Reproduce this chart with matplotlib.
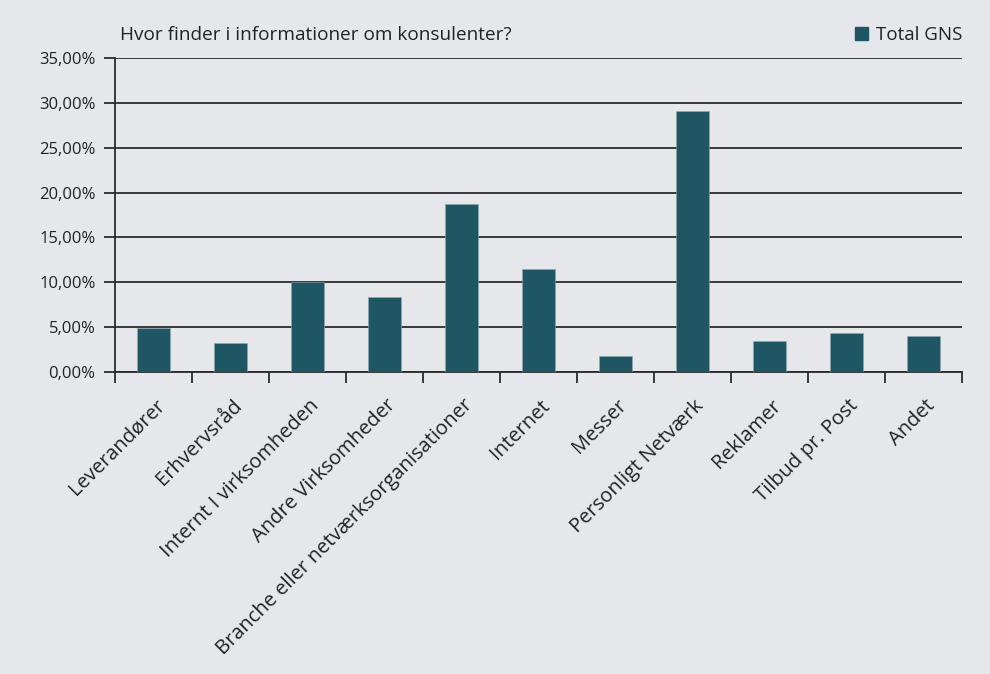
import numpy as np
import matplotlib.pyplot as plt
from matplotlib.patches import Patch

plt.rcParams['font.family'] = ['Open Sans', 'DejaVu Sans']

# data
categories = ['Leverandører', 'Erhvervsråd', 'Internt I virksomheden', 'Andre Virksomheder',
              'Branche eller netværksorganisationer', 'Internet', 'Messer',
              'Personligt Netværk', 'Reklamer', 'Tilbud pr. Post', 'Andet']
values = [4.95, 3.2, 10.05, 8.35, 18.7, 11.45, 1.75, 29.1, 3.45, 4.4, 4.0]
series_name = 'Total GNS'
title = 'Hvor finder i informationer om konsulenter?'

bg = '#e6e7eb'
bar_color = '#1f5664'
line_color = '#2b2b2b'
txt = '#222222'

fig = plt.figure(figsize=(9.9, 6.74), dpi=100, facecolor=bg)
ax = fig.add_axes([115 / 990, 1 - 372 / 674, 847 / 990, 314 / 674])
ax.set_facecolor(bg)

x = np.arange(len(categories))
ax.bar(x, values, width=0.42, color=bar_color, edgecolor='#8fa9b0', linewidth=0.4, zorder=3)

ax.set_xlim(-0.5, len(categories) - 0.5)
ax.set_ylim(0, 35)
yt = np.arange(0, 36, 5)
ax.set_yticks(yt)
ax.set_yticklabels([f'{v:.2f}%'.replace('.', ',') for v in yt], fontsize=12, color=txt)
ax.yaxis.grid(True, color=line_color, linewidth=1.3, zorder=1)
ax.set_axisbelow(True)

# labels centred under bars, tick marks between categories
ax.set_xticks(x + 0.02)
ax.set_xticklabels(categories, rotation=45, ha='right', rotation_mode='anchor',
                   fontsize=14.5, color=txt)
ax.tick_params(axis='x', which='major', length=0, pad=17)
ax.set_xticks(np.arange(len(categories) + 1) - 0.5, minor=True)
ax.tick_params(axis='x', which='minor', length=8, width=1.3, color=line_color, direction='out')
ax.tick_params(axis='y', length=8, width=1.3, color=line_color, pad=6)

for s in ['top', 'right']:
    ax.spines[s].set_visible(False)
for s in ['left', 'bottom']:
    ax.spines[s].set_color(line_color)
    ax.spines[s].set_linewidth(1.3)

fig.text(120 / 990, 1 - 35 / 674, title, fontsize=13.7, color=txt, va='center')
leg = fig.legend(handles=[Patch(color=bar_color, label=series_name)],
                 loc='center right', bbox_to_anchor=(979 / 990, 1 - 35 / 674),
                 frameon=False, fontsize=13.5, handlelength=0.7, handleheight=0.7,
                 handletextpad=0.4)
for t in leg.get_texts():
    t.set_color(txt)

fig.savefig('out.png', dpi=100, facecolor=bg)
